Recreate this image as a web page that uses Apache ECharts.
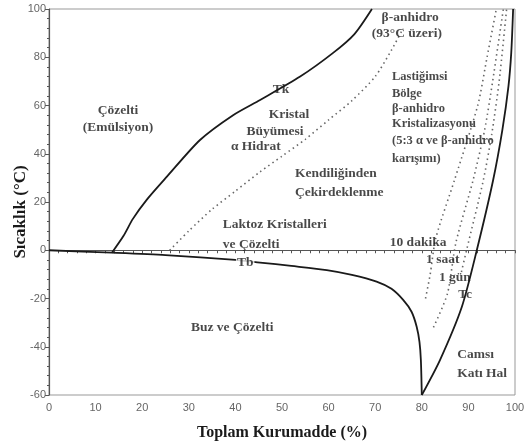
<!DOCTYPE html>
<html>
<head>
<meta charset="utf-8">
<script src="https://cdn.jsdelivr.net/npm/echarts@6/dist/echarts.min.js"></script>
<style>
  html, body { margin: 0; padding: 0; background: #fff; }
  #main { width: 527px; height: 447px; }
</style>
</head>
<body>
<div id="main"></div>
<script>
// egriler: [toplam kurumadde %, sicaklik C]
var tkCurve = [[13.5, -1], [16, 6], [18, 13], [21, 21], [25.3, 30.5], [32.4, 45.7], [39.5, 56], [45.3, 62.3], [53.9, 72], [60.9, 81.7], [65.5, 89.5], [69.3, 100]];
var tbCurve = [[0, 0], [13.5, -1], [25, -2], [40, -4], [45.3, -5.1], [52, -6.5], [59.6, -8.2], [65, -10.2], [70.3, -13], [73.5, -16], [76, -20.6], [77.8, -25.5], [78.9, -31.7], [79.5, -38], [79.8, -45.5], [80, -60]];
var tcCurve = [[80, -60], [83.9, -45.5], [88.6, -23.4], [91.8, 0], [95.3, 29], [97.3, 50], [98.6, 68], [99.2, 82], [99.6, 100]];
var growthLine = [[25.9, 0], [30, 8], [35, 17], [40, 24.5], [45.3, 32.5], [50, 39], [55, 46], [60, 54], [65, 62], [70, 72], [73.5, 83], [76, 92]];
var line10dk = [[80.8, -20], [81.8, -10], [83, 5], [87, 29], [92, 60], [94, 80], [96, 100]];
var line1saat = [[82.5, -32], [85.5, -18], [87.3, 3], [91, 29], [93.5, 50], [95.2, 70], [97.5, 100]];
var line1gun = [[88.5, -9], [89.6, 0], [93.2, 29], [95, 48], [96.6, 70], [98.2, 100]];

var xTicks = [0, 10, 20, 30, 40, 50, 60, 70, 80, 90, 100];
var yTicks = [-60, -40, -20, 0, 20, 40, 60, 80, 100];

// bolge yazilari: [x, y, metin]
var centerNotes = [
  [14.8, 58.1, 'Çözelti'], [14.8, 50.7, '(Emülsiyon)'],
  [49.8, 66.8, 'Tk'],
  [51.5, 56.1, 'Kristal'], [48.5, 49.4, 'Büyümesi'], [44.4, 42.8, 'α Hidrat'],
  [39.3, -32.2, 'Buz ve Çözelti'],
  [77.5, 96.3, 'β-anhidro'], [76.8, 90, '(93°C üzeri)'],
  [79.2, 3.4, '10 dakika'], [84.5, -4, '1 saat'], [87.1, -11.1, '1 gün'], [89.3, -18.5, 'Tc']
];
var leftNotes = [
  [52.8, 32, 'Kendiliğinden'], [52.8, 24.1, 'Çekirdeklenme'],
  [37.3, 10.5, 'Laktoz Kristalleri'], [37.3, 2.2, 've Çözelti'],
  [87.6, -43.4, 'Camsı'], [87.6, -50.9, 'Katı Hal']
];
var smallNotes = [
  [73.6, 71.8, 'Lastiğimsi'], [73.6, 64.8, 'Bölge'], [73.6, 58.5, 'β-anhidro'],
  [73.6, 52.3, 'Kristalizasyonu'], [73.6, 45.3, '(5:3 α ve β-anhidro'], [73.6, 37.8, 'karışımı)']
];
var tbNote = [[42.1, -4.9, 'Tb']];

var serif = '"Liberation Serif", "DejaVu Serif", serif';

function solid(data) {
  return {
    type: 'line', data: data, smooth: 0.25, symbol: 'none',
    lineStyle: { color: '#1a1a1a', width: 1.8 }, z: 3
  };
}
function dotted(data) {
  return {
    type: 'line', data: data, smooth: 0.25, symbol: 'none',
    lineStyle: { color: '#666', width: 1.6, type: [1.5, 3.5] }, z: 2
  };
}
function notes(data, align, size, bg) {
  return {
    type: 'scatter', data: data, symbolSize: 0, z: 5, silent: true,
    label: {
      show: true, position: 'inside', align: align,
      formatter: function (p) { return p.data[2] },
      fontFamily: serif, fontWeight: 'bold', fontSize: size, color: '#1a1a1a',
      backgroundColor: bg || 'transparent', padding: bg ? [0, 1] : 0
    }
  };
}

var myChart = echarts.init(document.getElementById('main'));
myChart.setOption({
  animation: false,
  backgroundColor: '#fff',
  grid: {
    left: 49, right: 12, top: 9, bottom: 52, outerBoundsMode: 'none', containLabel: false,
    show: true, borderColor: '#999', borderWidth: 1
  },
  xAxis: {
    type: 'value', min: 0, max: 100, interval: 10,
    name: 'Toplam Kurumadde (%)', nameLocation: 'middle', nameGap: 30,
    nameTextStyle: { fontFamily: serif, fontWeight: 'bold', fontSize: 16, color: '#1a1a1a' },
    axisLine: { lineStyle: { color: '#555', width: 1.2 } },
    axisTick: { length: 3, lineStyle: { color: '#555' } },
    minorTick: { show: true, splitNumber: 5, length: 3, lineStyle: { color: '#555' } },
    axisLabel: {
      color: '#666', fontSize: 11, fontFamily: '"Liberation Sans", Arial, sans-serif', margin: 7,
      formatter: function (v) { return xTicks.indexOf(v) >= 0 ? String(v) : '' }
    },
    splitLine: { show: false }
  },
  yAxis: {
    type: 'value', min: -60, max: 100, interval: 20,
    name: 'Sıcaklık (°C)', nameLocation: 'middle', nameGap: 20, nameMoveOverlap: false,
    nameTextStyle: { fontFamily: serif, fontWeight: 'bold', fontSize: 17, color: '#1a1a1a', padding: [0, 20, 0, 0] },
    axisLine: { lineStyle: { color: '#555', width: 1.2 } },
    axisTick: { length: 4, lineStyle: { color: '#555' } },
    minorTick: { show: true, splitNumber: 5, length: 2, lineStyle: { color: '#555' } },
    axisLabel: {
      color: '#666', fontSize: 11, fontFamily: '"Liberation Sans", Arial, sans-serif', margin: 3,
      formatter: function (v) { return yTicks.indexOf(v) >= 0 ? String(v) : '' }
    },
    splitLine: { show: false }
  },
  series: [
    solid(tkCurve),
    solid(tbCurve),
    solid(tcCurve),
    dotted(growthLine),
    dotted(line10dk),
    dotted(line1saat),
    dotted(line1gun),
    notes(centerNotes, 'center', 13.5),
    notes(leftNotes, 'left', 13.5),
    notes(smallNotes, 'left', 12.5),
    notes(tbNote, 'center', 13.5, '#fff')
  ]
});
</script>
</body>
</html>
